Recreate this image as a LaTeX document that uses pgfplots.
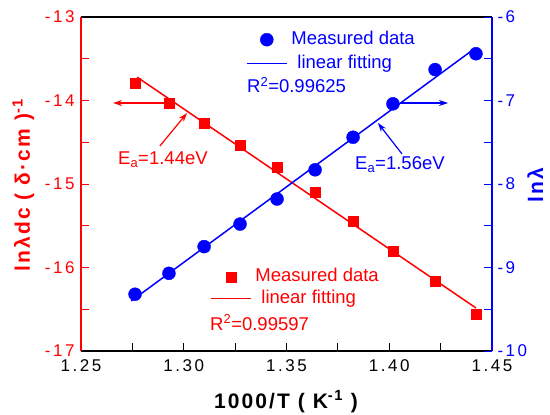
\documentclass[border=0pt]{standalone}
\usepackage{fontspec}
\setmainfont{Liberation Sans}
\newfontfamily\tickfont{Liberation Sans}[LetterSpace=15]
\newfontfamily\labfont{Liberation Sans}[LetterSpace=10]
\usepackage{pgfplots}
\pgfplotsset{compat=1.18}
\usetikzlibrary{arrows.meta}
\definecolor{myred}{RGB}{255,0,0}
\definecolor{myblue}{RGB}{0,0,255}
\newcommand{\tfont}{\tickfont\fontsize{17bp}{20bp}\selectfont}
\newcommand{\lfont}{\fontsize{18.5bp}{22bp}\selectfont}
\newcommand{\bfont}{\labfont\bfseries\fontsize{21bp}{25bp}\selectfont}
\pgfplotsset{
  legend image code/.code={\draw[mark repeat=2,mark phase=2] plot coordinates {(0cm,0cm)(0.7cm,0cm)(1.4cm,0cm)};}
}
\begin{document}
\begin{tikzpicture}
\useasboundingbox (-81bp,-64bp) rectangle (469bp,351bp);
\begin{axis}[
  at={(0,0)}, anchor=south west,
  width=411bp, height=334bp, scale only axis,
  xmin=1.25, xmax=1.45, ymin=-17, ymax=-13,
  axis x line=box, axis y line=left,
  x axis line style={-, black, line width=1.6bp},
  y axis line style={-, myred, line width=1.6bp},
  xtick={1.25,1.30,1.35,1.40,1.45}, xticklabels={1.25,1.30,1.35,1.40,1.45},
  minor xtick={1.275,1.325,1.375,1.425},
  xtick pos=bottom,
  ytick={-17,-16,-15,-14,-13}, yticklabels={-17,-16,-15,-14,-13},
  minor ytick={-16.5,-15.5,-14.5,-13.5},
  ytick pos=left,
  tick align=inside,
  major tick length=8bp, minor tick length=8bp,
  xtick style={black, line width=1bp},
  ytick style={myred, line width=1bp},
  xticklabel style={font=\tfont, text=black, yshift=-5bp},
  yticklabel style={font=\tfont, text=myred, xshift=-3bp},
  legend cell align=left,
  legend style={at={(axis description cs:0.3139,0.2485)}, anchor=north west,
    draw=none, fill=none, inner sep=0pt, row sep=5bp, font=\lfont, text=myred,
    nodes={inner sep=0pt, text height=13bp, text depth=4bp},
    /tikz/every odd column/.append style={column sep=4bp}},
]
\addplot[only marks, mark=square*, mark size=5bp, color=myred] coordinates {
(1.2763,-13.79) (1.2928,-14.03) (1.3099,-14.27) (1.3274,-14.54) (1.3454,-14.80)
(1.3639,-15.10) (1.3824,-15.44) (1.4018,-15.80) (1.4223,-16.17) (1.4422,-16.56)};
\addlegendentry{Measured data}
\addplot[color=myred, line width=1.5bp] coordinates {(1.2773,-13.72) (1.4422,-16.485)};
\addlegendentry{\hspace{6bp}linear fitting}
\draw[myred, line width=1.2bp, -{Stealth[length=9bp,width=6bp]}] (axis cs:1.2928,-14.03) -- (axis cs:1.2656,-14.03);
\draw[myred, line width=1.2bp, -{Stealth[length=9bp,width=6bp]}] (axis cs:1.2884,-14.545) -- (axis cs:1.3016,-14.15);
\end{axis}
\begin{axis}[
  at={(0,0)}, anchor=south west,
  width=411bp, height=334bp, scale only axis,
  xmin=1.25, xmax=1.45, ymin=-10, ymax=-6,
  axis x line=none, axis y line=right,
  y axis line style={-, myblue, line width=1.6bp},
  xtick=\empty,
  ytick={-10,-9,-8,-7,-6}, yticklabels={-10,-9,-8,-7,-6},
  minor ytick={-9.5,-8.5,-7.5,-6.5},
  tick align=inside,
  major tick length=8bp, minor tick length=8bp,
  ytick style={myblue, line width=1bp},
  yticklabel style={font=\tfont, text=myblue, xshift=2bp},
  legend cell align=left,
  legend style={at={(axis description cs:0.4015,0.9581)}, anchor=north west,
    draw=none, fill=none, inner sep=0pt, row sep=7bp, font=\lfont, text=myblue,
    nodes={inner sep=0pt, text height=13bp, text depth=4bp},
    /tikz/every odd column/.append style={column sep=4bp}},
]
\addplot[only marks, mark=*, mark size=6.5bp, color=myblue] coordinates {
(1.2763,-9.32) (1.2928,-9.07) (1.3099,-8.75) (1.3274,-8.48) (1.3454,-8.18)
(1.3639,-7.83) (1.3824,-7.44) (1.4018,-7.04) (1.4223,-6.63) (1.4422,-6.44)};
\addlegendentry{Measured data}
\addplot[color=myblue, line width=1.5bp] coordinates {(1.2745,-9.40) (1.4420,-6.37)};
\addlegendentry{\hspace{6bp}linear fitting}
\draw[myblue, line width=1.2bp, -{Stealth[length=9bp,width=6bp]}] (axis cs:1.4052,-7.03) -- (axis cs:1.4286,-7.03);
\draw[myblue, line width=1.2bp, -{Stealth[length=9bp,width=6bp]}] (axis cs:1.4062,-7.64) -- (axis cs:1.3945,-7.27);
\end{axis}
\node[anchor=base west, inner sep=0pt, text=myred, font=\lfont] at (37bp,186bp) {E\textsubscript{a}=1.44eV};
\node[anchor=base west, inner sep=0pt, text=myblue, font=\lfont] at (274bp,181bp) {E\textsubscript{a}=1.56eV};
\node[anchor=base west, inner sep=0pt, text=myred, font=\lfont] at (129bp,21bp) {R\textsuperscript{2}=0.99597};
\node[anchor=base west, inner sep=0pt, text=myblue, font=\lfont] at (166bp,258bp) {R\textsuperscript{2}=0.99625};
\node[rotate=90, anchor=base, inner sep=0pt, text=myred, font=\bfont] at (-51bp,166bp) {lnλdc ( δ·cm )\textsuperscript{-1}};
\node[rotate=90, anchor=base, inner sep=0pt, text=myblue, font=\bfont] at (462bp,166bp) {lnλ};
\node[anchor=base, inner sep=0pt, text=black, font=\bfont] at (205bp,-57bp) {1000/T ( K\textsuperscript{-1} )};
\end{tikzpicture}
\end{document}
